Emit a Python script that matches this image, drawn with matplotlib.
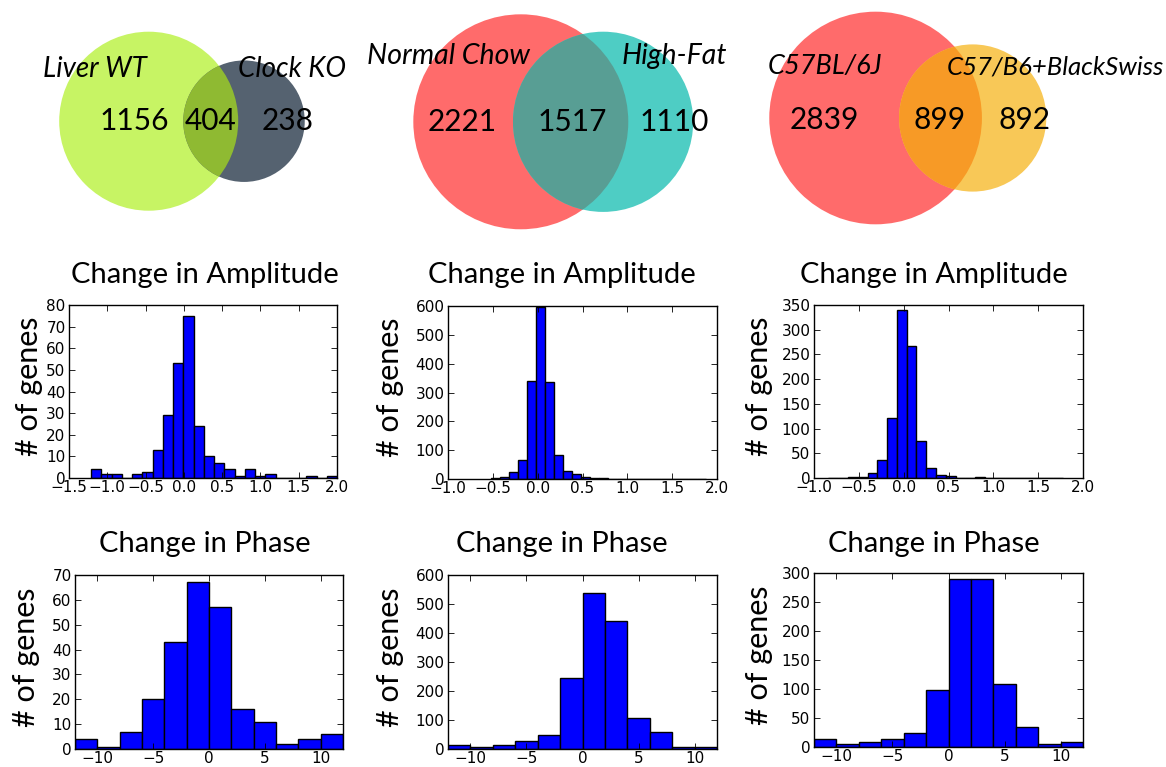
import numpy as np
import matplotlib
matplotlib.use("Agg")
import matplotlib.pyplot as plt
from matplotlib.patches import Circle

# ---- data ----
# Venn labels and the numbers written left / middle / right
venn_names  = [("Liver WT", "Clock KO"),
               ("Normal Chow", "High-Fat"),
               ("C57BL/6J", "C57/B6+BlackSwiss")]
venn_labels = [(1156, 404, 238),
               (2221, 1517, 1110),
               (2839, 899, 892)]
# subsets used for the circle geometry, venn2 order: (only A, only B, both)
venn_subsets = [(1156, 404, 238),
                (2221, 1110, 1517),
                (2839, 892, 899)]

# change in amplitude: (first edge, last edge) and counts per bin
amp_ranges   = [(-1.21, 2.0), (-0.52, 1.88), (-0.84, 1.78)]
amp_counts_1 = [4, 2, 2, 0, 2, 3, 13, 29, 53, 75, 24, 10, 7, 4, 1, 4, 1, 2, 0, 0, 0, 1, 0, 1]
amp_counts_2 = [3, 6, 24, 66, 340, 598, 335, 84, 28, 17, 7, 3, 2, 1, 0, 0, 1, 1, 0, 0, 0, 0, 0, 1]
amp_counts_3 = [1, 1, 3, 3, 11, 36, 122, 339, 268, 74, 20, 7, 5, 1, 1, 3, 1, 0, 0, 0, 1, 1, 0, 1]

# change in phase (hours), bins of 2 h from -12 to 12
phase_range    = (-12, 12)
phase_counts_1 = [4, 1, 7, 20, 43, 67, 57, 16, 11, 2, 4, 6]
phase_counts_2 = [14, 6, 14, 27, 50, 244, 538, 443, 107, 60, 6, 8]
phase_counts_3 = [13, 6, 9, 14, 24, 99, 289, 289, 108, 34, 6, 8]

amp_xticks   = [[-1.5, -1.0, -0.5, 0.0, 0.5, 1.0, 1.5, 2.0],
                [-1.0, -0.5, 0.0, 0.5, 1.0, 1.5, 2.0],
                [-1.0, -0.5, 0.0, 0.5, 1.0, 1.5, 2.0]]
amp_yticks   = [list(range(0, 81, 10)), list(range(0, 601, 100)), list(range(0, 351, 50))]
phase_xticks = [-10, -5, 0, 5, 10]
phase_yticks = [list(range(0, 71, 10)), list(range(0, 601, 100)), list(range(0, 301, 50))]

# ---- layout ----
W, H = 1166, 767
fig = plt.figure(figsize=(W / 100, H / 100), dpi=100, facecolor="white")

plt.rcParams["xtick.direction"] = "in"
plt.rcParams["ytick.direction"] = "in"
plt.rcParams["xtick.top"] = True
plt.rcParams["ytick.right"] = True
plt.rcParams["xtick.major.size"] = 4
plt.rcParams["ytick.major.size"] = 4
plt.rcParams["xtick.major.width"] = 0.6
plt.rcParams["ytick.major.width"] = 0.6
plt.rcParams["axes.linewidth"] = 1.0

UIFONT = ["Lato", "DejaVu Sans"]

def rect(l, r, t, b):
    return [l / W, 1 - b / H, (r - l) / W, (b - t) / H]

amp_rects   = [rect(69, 337, 305, 478), rect(448, 717, 306, 479), rect(814, 1083, 305, 478)]
phase_rects = [rect(75, 343, 575, 749), rect(448, 717, 575, 749), rect(814, 1083, 573, 747)]
title_x     = [205, 562, 934]
ylab_right  = [[43, 404, 773], [40, 404, 773]]

venn_colors = [("#C7F464", "#556270", "#8FBA32"),
               ("#FF6B6B", "#4ECDC4", "#589E94"),
               ("#FF6B6B", "#F8C857", "#F79A26")]
venn_a_center = [(148.7, 121.2), (520.8, 121.8), (875.6, 118.0)]
venn_scale    = [2.397, 1.758, 1.739]
venn_name_pos = [((43, 77), (238, 77)), ((367, 64), (622, 64)), ((768, 74), (947, 74))]
venn_name_fs  = [(20, 20), (20.5, 20.5), (19.5, 18.5)]
venn_num_x    = [(134, 211, 288), (462, 572, 674), (824, 940, 1024)]
venn_num_y    = [130, 130.7, 129]


def lens_area(r1, r2, d):
    if d >= r1 + r2:
        return 0.0
    if d <= abs(r1 - r2):
        return np.pi * min(r1, r2) ** 2
    a1 = np.arccos((d * d + r1 * r1 - r2 * r2) / (2 * d * r1))
    a2 = np.arccos((d * d + r2 * r2 - r1 * r1) / (2 * d * r2))
    k = np.sqrt((-d + r1 + r2) * (d + r1 - r2) * (d - r1 + r2) * (d + r1 + r2))
    return r1 * r1 * a1 + r2 * r2 * a2 - 0.5 * k


def solve_distance(r1, r2, area):
    lo, hi = abs(r1 - r2), r1 + r2
    for _ in range(80):
        mid = 0.5 * (lo + hi)
        if lens_area(r1, r2, mid) > area:
            lo = mid
        else:
            hi = mid
    return 0.5 * (lo + hi)


# ---- Venn diagrams (pixel coordinates) ----
vax = fig.add_axes([0, 0, 1, 1])
vax.set_xlim(0, W)
vax.set_ylim(H, 0)
vax.axis("off")

for i in range(3):
    only_a, only_b, both = venn_subsets[i]
    s = venn_scale[i]
    ra = s * np.sqrt(only_a + both)
    rb = s * np.sqrt(only_b + both)
    d = solve_distance(ra, rb, np.pi * s * s * both)
    xa, ya = venn_a_center[i]
    ca, cb, cab = venn_colors[i]
    circ_a = Circle((xa, ya), ra, facecolor=ca, edgecolor="none")
    circ_b = Circle((xa + d, ya), rb, facecolor=cb, edgecolor="none")
    vax.add_patch(circ_a)
    vax.add_patch(circ_b)
    over = Circle((xa + d, ya), rb, facecolor=cab, edgecolor="none")
    vax.add_patch(over)
    over.set_clip_path(circ_a)

    for name, (tx, ty), fs in zip(venn_names[i], venn_name_pos[i], venn_name_fs[i]):
        vax.text(tx, ty, name, ha="left", va="baseline", fontsize=fs,
                 style="italic", family=UIFONT, color="black")
    for val, nx in zip(venn_labels[i], venn_num_x[i]):
        vax.text(nx, venn_num_y[i], str(val), ha="center", va="baseline",
                 fontsize=21.5, family=UIFONT, color="black")


# ---- histograms ----
def draw_hist(r, lo, hi, counts, xlim, xticks, yticks, lab_right):
    ax = fig.add_axes(r)
    edges = np.linspace(lo, hi, len(counts) + 1)
    centers = 0.5 * (edges[:-1] + edges[1:])
    ax.hist(centers, bins=edges, weights=counts, histtype="bar", rwidth=1.0,
            color="#0000ff", edgecolor="black", linewidth=1.0)
    ax.set_xlim(*xlim)
    ax.set_ylim(yticks[0], yticks[-1])
    ax.set_xticks(xticks)
    ax.set_yticks(yticks)
    ax.tick_params(axis="x", labelsize=11, pad=1.5)
    ax.tick_params(axis="y", labelsize=11, pad=2.5)
    ax.set_ylabel("# of genes", fontsize=22, family=UIFONT)
    x0 = r[0] * W
    ax.yaxis.set_label_coords((lab_right - x0) / (r[2] * W), 0.53)
    return ax


amp_counts = [amp_counts_1, amp_counts_2, amp_counts_3]
phase_counts = [phase_counts_1, phase_counts_2, phase_counts_3]

for i in range(3):
    lo, hi = amp_ranges[i]
    draw_hist(amp_rects[i], lo, hi, amp_counts[i],
              (amp_xticks[i][0], amp_xticks[i][-1]), amp_xticks[i],
              amp_yticks[i], ylab_right[0][i])
    fig.text(title_x[i] / W, 1 - 282.7 / H, "Change in Amplitude", ha="center",
             va="baseline", fontsize=21, family=UIFONT)

    draw_hist(phase_rects[i], phase_range[0], phase_range[1], phase_counts[i],
              phase_range, phase_xticks, phase_yticks[i], ylab_right[1][i])
    fig.text(title_x[i] / W, 1 - 552 / H, "Change in Phase", ha="center",
             va="baseline", fontsize=21, family=UIFONT)

fig.savefig("out.png", dpi=100, facecolor="white")
